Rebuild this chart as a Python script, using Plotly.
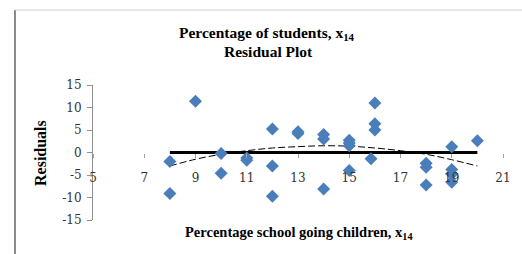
import plotly.graph_objects as go

# ---- data ----
res_x = [8, 8, 9, 10, 10, 11, 11, 12, 12, 12, 13, 13, 14, 14, 14,
         15, 15, 15, 15, 15.85, 16, 16, 16, 18, 18, 18, 19, 19, 19, 19, 20]
res_y = [-2.0, -9.1, 11.4, -0.2, -4.6, -1.2, -1.7, 5.2, -3.0, -9.7, 4.2, 4.6, 4.0, 3.0, -8.1,
         2.7, 2.1, 1.5, -4.0, -1.4, 11.0, 6.4, 5.0, -2.4, -3.3, -7.2, 1.3, -3.8, -4.8, -6.6, 2.6]

zero_x = [8, 20]
zero_y = [0, 0]

trend_x = [8, 9, 10, 11, 12, 13, 14, 15, 16, 17, 18, 19, 20]
trend_y = [-3.0, -1.5, -0.4, 0.4, 1.0, 1.3, 1.5, 1.4, 1.0, 0.4, -0.4, -1.6, -3.0]

x_ticks = [5, 7, 9, 11, 13, 15, 17, 19, 21]
y_ticks = [-15, -10, -5, 0, 5, 10, 15]
y_tick_labels = ["-15", "-10", "-5", "0", "5", "10", "15"]

title1 = "Percentage of students, x<sub>14</sub>"
title2 = "Residual Plot"
x_title = "Percentage school going children, x<sub>14</sub>"
y_title = "Residuals"

# ---- layout geometry (pixels) ----
W, H = 522, 254
L, R, T, B = 93, 19, 85, 34
PW, PH = W - L - R, H - T - B


def px(x):
    return (x - L) / PW


def py(y):
    return (H - B - y) / PH


fig = go.Figure()
fig.add_trace(go.Scatter(x=zero_x, y=zero_y, mode="lines",
                         line=dict(color="black", width=3), hoverinfo="skip"))
fig.add_trace(go.Scatter(x=trend_x, y=trend_y, mode="lines",
                         line=dict(color="black", width=1, dash="7px,3px", shape="spline"),
                         hoverinfo="skip"))
fig.add_trace(go.Scatter(x=res_x, y=res_y, mode="markers",
                         marker=dict(symbol="diamond", size=10, color="#4A7EBB",
                                     line=dict(width=0))))

tick_font = dict(family="DejaVu Serif", size=12, color="#333333")
title_font = dict(family="Liberation Serif", size=15.5, color="black")

fig.update_layout(
    width=W, height=H,
    margin=dict(l=L, r=R, t=T, b=B),
    paper_bgcolor="white", plot_bgcolor="white",
    showlegend=False,
    xaxis=dict(range=[5, 21], tickvals=x_ticks, showgrid=False, zeroline=False,
               showline=False, ticks="outside", ticklen=4, tickcolor="#A0A0A0",
               anchor="free", position=0.5, tickfont=tick_font,
               ticklabelstandoff=10),
    yaxis=dict(range=[-15, 15], tickvals=y_ticks, ticktext=y_tick_labels,
               showgrid=False, zeroline=False,
               showline=True, linecolor="#909090", linewidth=1,
               ticks="outside", ticklen=5, tickcolor="#909090",
               tickfont=tick_font, ticklabelstandoff=3),
    annotations=[
        dict(text="<b>" + title1 + "</b>", x=px(267), y=py(33), xref="paper", yref="paper",
             showarrow=False, font=title_font, xanchor="center", yanchor="middle"),
        dict(text="<b>" + title2 + "</b>", x=px(268), y=py(51), xref="paper", yref="paper",
             showarrow=False, font=title_font, xanchor="center", yanchor="middle"),
        dict(text="<b>" + x_title + "</b>", x=px(298), y=py(233), xref="paper", yref="paper",
             showarrow=False, font=dict(family="Liberation Serif", size=14.5, color="black"),
             xanchor="center", yanchor="middle"),
        dict(text="<b>" + y_title + "</b>", x=px(40), y=py(153), xref="paper", yref="paper",
             showarrow=False, textangle=-90,
             font=dict(family="Liberation Serif", size=16, color="black"),
             xanchor="center", yanchor="middle"),
    ],
    shapes=[
        dict(type="line", xref="paper", yref="paper", x0=px(15), x1=px(15), y0=py(10), y1=py(254),
             line=dict(color="#8C8C8C", width=2)),
        dict(type="line", xref="paper", yref="paper", x0=px(15), x1=px(522), y0=py(10), y1=py(10),
             line=dict(color="#D0D0D0", width=1)),
    ],
)

fig.write_html("out.html", config={"displayModeBar": False},
               post_script="document.body.style.margin='0';document.body.style.overflow='hidden';")
